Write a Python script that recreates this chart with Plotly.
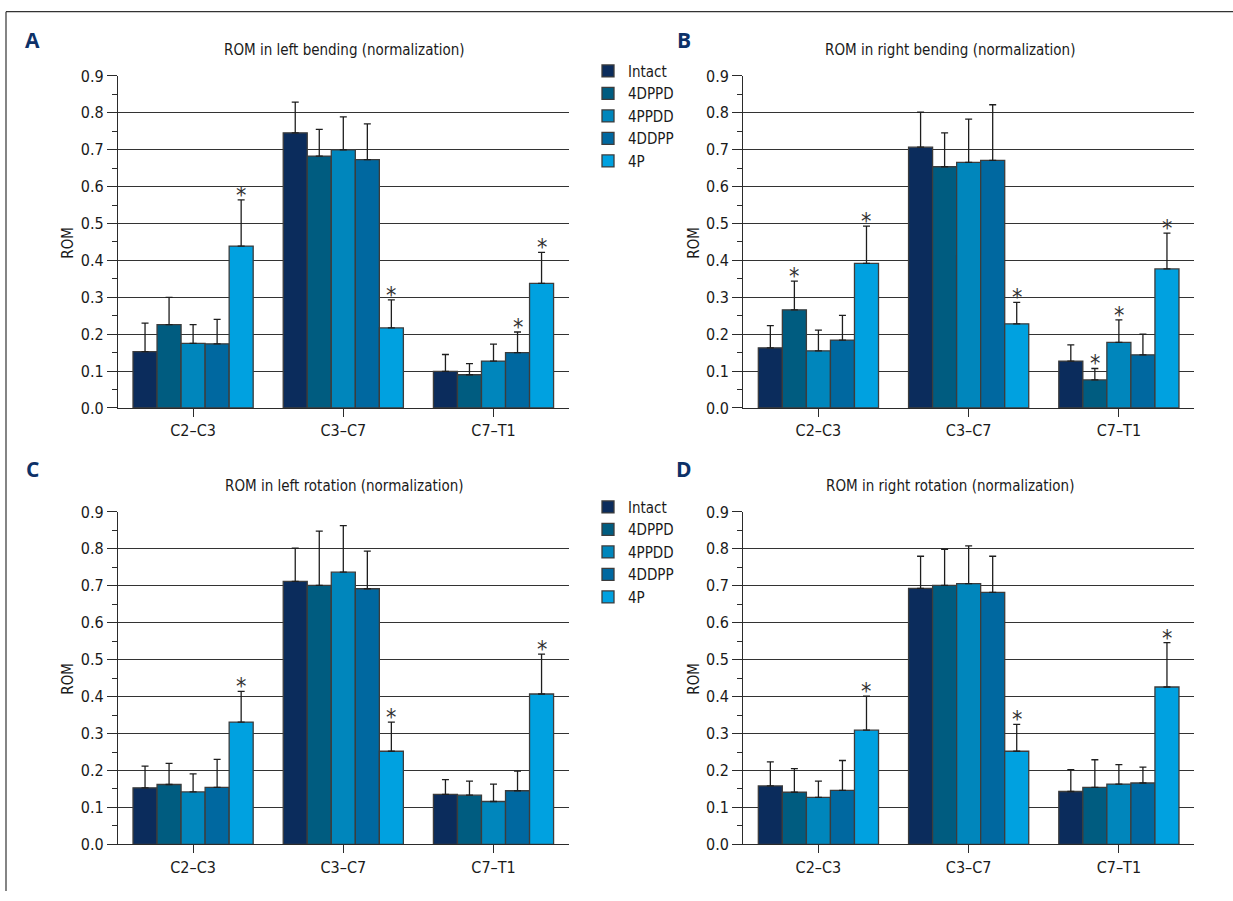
import plotly.graph_objects as go

# ---------------- data ----------------
categories = ["C2–C3", "C3–C7", "C7–T1"]
groups = ["Intact", "4DPPD", "4PPDD", "4DDPP", "4P"]
colors = ["#0b2c5c", "#005c80", "#0086bc", "#0068a0", "#00a1e0"]

# A: left bending  (rows = groups, cols = categories)
lb_mean = [[0.153, 0.746, 0.099],
           [0.226, 0.683, 0.090],
           [0.175, 0.700, 0.127],
           [0.174, 0.673, 0.150],
           [0.439, 0.217, 0.338]]
lb_sd = [[0.077, 0.083, 0.046],
         [0.074, 0.072, 0.030],
         [0.051, 0.089, 0.046],
         [0.066, 0.097, 0.056],
         [0.125, 0.076, 0.084]]
lb_star = [(4, 0), (4, 1), (3, 2), (4, 2)]

# B: right bending
rb_mean = [[0.163, 0.707, 0.127],
           [0.266, 0.654, 0.076],
           [0.155, 0.666, 0.178],
           [0.184, 0.671, 0.144],
           [0.392, 0.228, 0.377]]
rb_sd = [[0.060, 0.095, 0.044],
         [0.078, 0.092, 0.031],
         [0.056, 0.117, 0.061],
         [0.067, 0.151, 0.056],
         [0.101, 0.058, 0.097]]
rb_star = [(1, 0), (4, 0), (4, 1), (1, 2), (2, 2), (4, 2)]

# C: left rotation
lr_mean = [[0.153, 0.712, 0.135],
           [0.162, 0.701, 0.133],
           [0.142, 0.737, 0.116],
           [0.154, 0.692, 0.145],
           [0.331, 0.252, 0.407]]
lr_sd = [[0.059, 0.090, 0.040],
         [0.057, 0.147, 0.038],
         [0.049, 0.126, 0.047],
         [0.076, 0.102, 0.053],
         [0.083, 0.079, 0.108]]
lr_star = [(4, 0), (4, 1), (4, 2)]

# D: right rotation
rr_mean = [[0.158, 0.693, 0.143],
           [0.141, 0.701, 0.154],
           [0.127, 0.706, 0.163],
           [0.146, 0.682, 0.166],
           [0.309, 0.252, 0.426]]
rr_sd = [[0.065, 0.087, 0.059],
         [0.064, 0.098, 0.075],
         [0.044, 0.102, 0.053],
         [0.081, 0.098, 0.043],
         [0.092, 0.073, 0.120]]
rr_star = [(4, 0), (4, 1), (4, 2)]

titles = ["ROM in left bending (normalization)",
          "ROM in right bending (normalization)",
          "ROM in left rotation (normalization)",
          "ROM in right rotation (normalization)"]
letters = ["A", "B", "C", "D"]
y_ticks = [0.0, 0.1, 0.2, 0.3, 0.4, 0.5, 0.6, 0.7, 0.8, 0.9]

panels = [(lb_mean, lb_sd, lb_star), (rb_mean, rb_sd, rb_star),
          (lr_mean, lr_sd, lr_star), (rr_mean, rr_sd, rr_star)]

# ---------------- layout geometry (pixels) ----------------
W, H = 1233, 901
FONT = "'Liberation Sans Narrow', 'DejaVu Sans Condensed', 'Arial Narrow', 'Roboto', sans-serif"
INK = "#2b2b2b"
Y_OFF, Y_SC = 8.3, 0.979   # compensation for the vertical placement seen on screen

def px_x(v):
    return v / W

def px_y(v):
    return 1 - ((v - Y_OFF) / Y_SC) / H

x_dom = [(118, 568.6), (743.3, 1194), (118, 568.6), (743.3, 1194)]
y_dom = [(75.3, 407.3), (75.3, 407.3), (511.3, 843.7), (511.3, 843.7)]
title_pos = [(344, 49), (950, 49), (344, 485), (950, 485)]
letter_pos = [(32, 39), (684, 39), (32.5, 468), (683.5, 468)]
ylab_pos = [(68, 242), (694, 242), (68, 678), (694, 678)]

fig = go.Figure()
annotations = []
BARW = 0.8 / len(groups)

for p, (mean, sd, stars) in enumerate(panels):
    ax = "" if p == 0 else str(p + 1)
    for g, name in enumerate(groups):
        fig.add_trace(go.Bar(
            x=categories, y=mean[g], name=name,
            xaxis="x" + ax, yaxis="y" + ax,
            marker=dict(color=colors[g], line=dict(color="#3c3c3c", width=1.3)),
            error_y=dict(type="data", symmetric=False, array=sd[g],
                         arrayminus=[0] * len(categories),
                         color="#1e1e1e", thickness=1.3, width=3.5),
            legend="legend" if p == 0 else "legend2",
            showlegend=(p in (0, 2)),
        ))
    for (g, c) in stars:
        annotations.append(dict(
            x=c + (g - (len(groups) - 1) / 2) * BARW,
            y=mean[g][c] + sd[g][c],
            xref="x" + ax, yref="y" + ax,
            text="*", showarrow=False, yanchor="bottom",
            yshift=-10, font=dict(family=FONT, size=23, color="#333333")))
    tx, ty = title_pos[p]
    annotations.append(dict(x=px_x(tx), y=px_y(ty), xref="paper", yref="paper",
                            text=titles[p], showarrow=False,
                            xanchor="center", yanchor="middle",
                            font=dict(family=FONT, size=15, color="#1a1a1a")))
    lx, ly = letter_pos[p]
    annotations.append(dict(x=px_x(lx), y=px_y(ly), xref="paper", yref="paper",
                            text="<b>" + letters[p] + "</b>", showarrow=False,
                            xanchor="center", yanchor="middle",
                            font=dict(family="'Open Sans', 'Noto Sans', sans-serif",
                                      size=21, color="#0d3168")))
    rx, ry = ylab_pos[p]
    annotations.append(dict(x=px_x(rx), y=px_y(ry), xref="paper", yref="paper",
                            text="ROM", showarrow=False, textangle=-90,
                            xanchor="center", yanchor="middle",
                            font=dict(family=FONT, size=15, color="#1a1a1a")))

    xd = x_dom[p]
    yd = y_dom[p]
    fig.layout["xaxis" + ax] = dict(
        domain=[px_x(xd[0]), px_x(xd[1])], anchor="y" + ax,
        type="category", showline=True, linecolor=INK, linewidth=1.3,
        ticks="outside", ticklen=8, tickcolor=INK, tickwidth=1.3,
        showgrid=False, zeroline=False,
        tickfont=dict(family=FONT, size=16, color="#1a1a1a"),
        range=[-0.5, 2.5], fixedrange=True)
    fig.layout["yaxis" + ax] = dict(
        domain=[px_y(yd[1]), px_y(yd[0])], anchor="x" + ax,
        range=[0, 0.9], tickvals=y_ticks, tickformat=".1f",
        showline=True, linecolor=INK, linewidth=1.3,
        ticks="outside", ticklen=10, tickcolor=INK, tickwidth=1.3,
        minor=dict(dtick=0.05, tick0=0, ticks="outside", ticklen=5,
                   tickcolor=INK, tickwidth=1.3, showgrid=False),
        showgrid=True, gridcolor="#333333", gridwidth=1.3, zeroline=False,
        tickfont=dict(family=FONT, size=16, color="#1a1a1a"),
        fixedrange=True)

legend_common = dict(xanchor="left", yanchor="top", bgcolor="rgba(0,0,0,0)",
                     font=dict(family=FONT, size=15, color="#1a1a1a"),
                     itemwidth=30, tracegroupgap=0, traceorder="normal")
fig.update_layout(
    legend=dict(x=px_x(588), y=px_y(54), **legend_common),
    legend2=dict(x=px_x(588), y=px_y(490), **legend_common),
)

shapes = [
    dict(type="line", xref="paper", yref="paper",
         x0=px_x(6), x1=1, y0=px_y(11), y1=px_y(11),
         line=dict(color="#333333", width=1.2)),
    dict(type="line", xref="paper", yref="paper",
         x0=px_x(6), x1=px_x(6), y0=px_y(11), y1=0,
         line=dict(color="#333333", width=1.2)),
]

fig.update_layout(
    width=W, height=H, margin=dict(l=0, r=0, t=0, b=0),
    paper_bgcolor="white", plot_bgcolor="white",
    barmode="group", bargap=0.2, bargroupgap=0,
    annotations=annotations, shapes=shapes,
    font=dict(family=FONT, color="#1a1a1a"),
)

fig.write_html("out.html",
               config={"displayModeBar": False},
               post_script="document.documentElement.style.margin='0';"
                           "document.body.style.margin='0';"
                           "document.body.style.overflow='hidden';")
